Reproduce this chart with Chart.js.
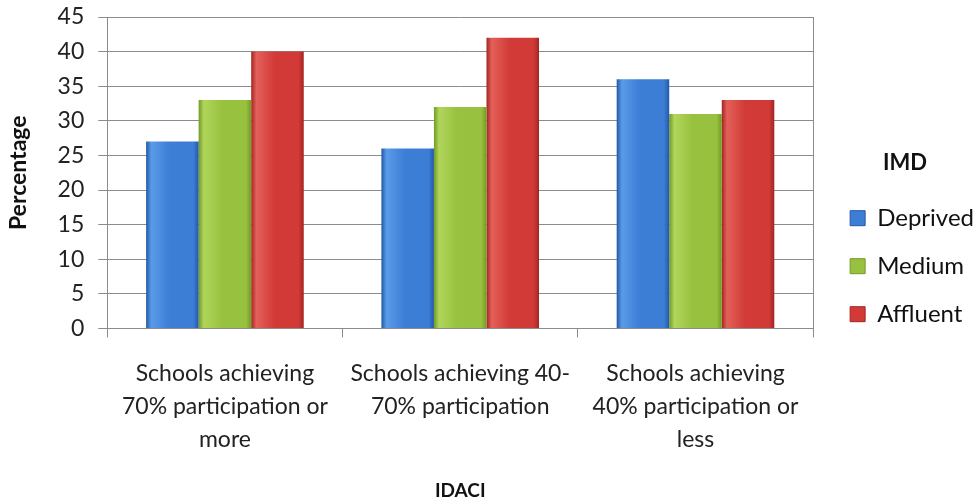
<!DOCTYPE html>
<html>
<head>
<meta charset="utf-8">
<script src="https://cdn.jsdelivr.net/npm/chart.js@4.4.0/dist/chart.umd.min.js"></script>
<style>
    html, body { margin: 0; padding: 0; background: #fff; }
    #wrap { width: 979px; height: 502px; }
</style>
</head>
<body>
<div id="wrap"><canvas id="chart"></canvas></div>
<script>
const categories = [
    ['Schools achieving', '70% participation or', 'more'],
    ['Schools achieving 40-', '70% participation'],
    ['Schools achieving', '40% participation or', 'less']
]
const deprived = [27, 26, 36]
const medium   = [33, 32, 31]
const affluent = [40, 42, 33]
const yTicks   = [0, 5, 10, 15, 20, 25, 30, 35, 40, 45]

const FONT = 'Lato, "Open Sans", sans-serif'

// colour stops for the shaded bars: [edge, light, mid]
const shades = {
    Deprived: ['#2359a6', '#5a9be8', '#3c7dd6'],
    Medium  : ['#739a26', '#b0d65a', '#98c13f'],
    Affluent: ['#a32522', '#e4605a', '#d13a36']
}

const barShading = {
    id: 'barShading',
    beforeDatasetsDraw(chart) {
        const ctx = chart.ctx
        chart.data.datasets.forEach((ds, i) => {
            const s = shades[ds.label]
            chart.getDatasetMeta(i).data.forEach(bar => {
                const left  = bar.x - bar.width / 2
                const right = bar.x + bar.width / 2
                const g = ctx.createLinearGradient(left, 0, right, 0)
                g.addColorStop(0, s[0])
                g.addColorStop(0.1, s[1])
                g.addColorStop(0.45, s[2])
                g.addColorStop(0.9, s[2])
                g.addColorStop(1, s[0])
                bar.options.backgroundColor = g
            })
        })
    }
}

const plotBorder = {
    id: 'plotBorder',
    afterDraw(chart) {
        const {ctx, chartArea: a} = chart
        ctx.save()
        ctx.strokeStyle = '#8c8c8c'
        ctx.lineWidth = 1
        ctx.beginPath()
        ctx.moveTo(Math.round(a.right) + 0.5, a.top)
        ctx.lineTo(Math.round(a.right) + 0.5, a.bottom)
        ctx.stroke()
        ctx.restore()
    }
}

const legendBox = (label, i) => ({
    text       : label,
    fillStyle  : shades[label][2],
    strokeStyle: shades[label][0],
    lineWidth  : 1,
    datasetIndex: i,
    hidden     : false
})

// scriptable colour so each bar keeps its own options object
const barColour = label => () => shades[label][2]

new Chart(document.getElementById('chart'), {
    type   : 'bar',
    data   : {
        labels  : categories,
        datasets: [
            {label: 'Deprived', data: deprived, backgroundColor: barColour('Deprived')},
            {label: 'Medium', data: medium, backgroundColor: barColour('Medium')},
            {label: 'Affluent', data: affluent, backgroundColor: barColour('Affluent')}
        ]
    },
    options: {
        responsive         : true,
        maintainAspectRatio: false,
        animation          : false,
        layout             : {padding: {left: 5, right: -5, top: 0, bottom: 0}},
        datasets           : {
            bar: {categoryPercentage: 0.67, barPercentage: 1, borderWidth: 0}
        },
        scales : {
            x: {
                grid  : {offset: true, drawOnChartArea: false, color: '#8c8c8c', tickLength: 9},
                border: {color: '#8c8c8c'},
                ticks : {color: '#222', font: {family: FONT, size: 23, lineHeight: 1.43}, padding: 20, maxRotation: 0, autoSkip: false},
                title : {display: true, text: 'IDACI', color: '#111', font: {family: FONT, size: 19, weight: 'bold'}, padding: {top: 3, bottom: 0}}
            },
            y: {
                min   : 0,
                max   : 45,
                afterBuildTicks: axis => { axis.ticks = yTicks.map(v => ({value: v})) },
                // tick padding would otherwise push the plot top down
                afterFit: axis => { axis.paddingTop = 17; axis.paddingBottom = 0 },
                grid  : {color: '#8c8c8c', tickLength: 9},
                border: {color: '#8c8c8c'},
                ticks : {color: '#222', font: {family: FONT, size: 23}, padding: 14},
                title : {display: true, text: 'Percentage', color: '#111', font: {family: FONT, size: 23, weight: 'bold'}, padding: {top: 0, bottom: 11}}
            },
            // empty right-hand axis, only keeps a gap before the legend
            gap: {
                position: 'right',
                display : true,
                grid    : {display: false},
                border  : {display: false},
                ticks   : {display: false},
                afterFit: axis => { axis.width = 13 }
            }
        },
        plugins: {
            tooltip: {enabled: false},
            legend : {
                position: 'right',
                title   : {display: true, text: 'IMD', color: '#111', font: {family: FONT, size: 22, weight: 'bold'}, padding: {top: 0, bottom: 4}},
                labels  : {
                    color    : '#222',
                    font     : {family: FONT, size: 24},
                    boxWidth : 15,
                    boxHeight: 15,
                    padding  : 24,
                    generateLabels: chart => chart.data.datasets.map((ds, i) => legendBox(ds.label, i))
                }
            }
        }
    },
    plugins: [barShading, plotBorder]
})
</script>
</body>
</html>
